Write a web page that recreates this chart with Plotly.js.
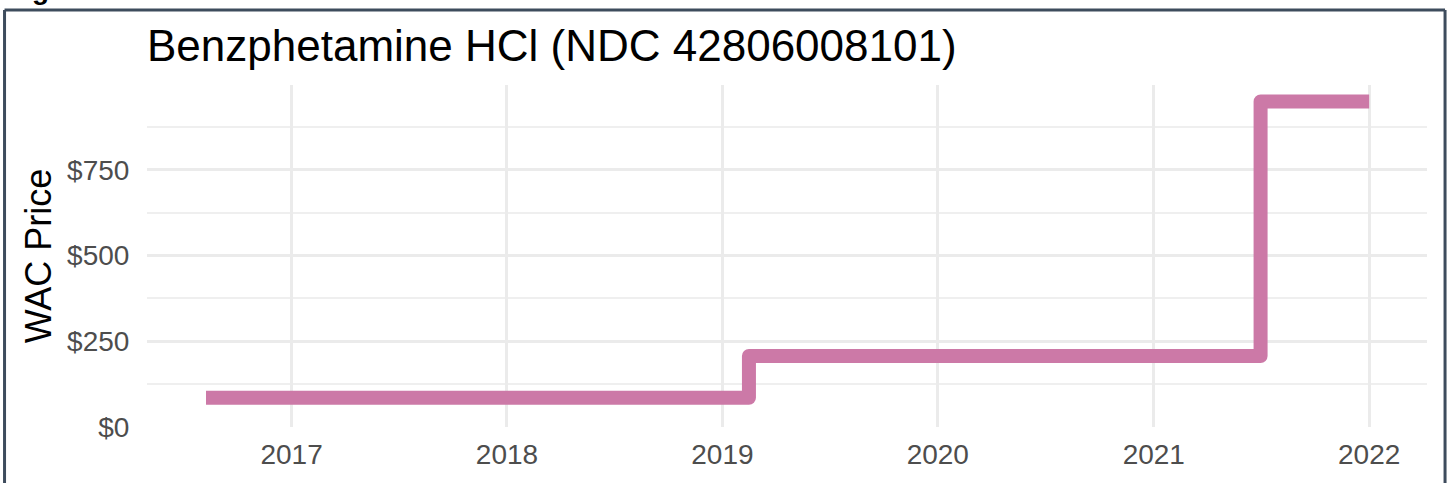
<!DOCTYPE html>
<html>
<head>
<meta charset="utf-8">
<script src="https://cdn.plot.ly/plotly-3.0.1.min.js"></script>
<style>
html,body{margin:0;padding:0;background:#fff;}
#chart{width:1448px;height:483px;}
#chart .js-line{stroke-linejoin:round !important;}
</style>
</head>
<body>
<div id="chart"></div>
<script>
// Data
const dates = ['2016-08-09', '2019-02-15', '2021-07-01', '2022-01-01'];
const prices = [85, 207, 950, 950];
const chartTitle = 'Benzphetamine HCl (NDC 42806008101)';
const yTitle = 'WAC Price';
const figureLabel = 'Figure 1';

const FONT = 'Liberation Sans, Arial, Helvetica, sans-serif';

const trace = {
  x: dates,
  y: prices,
  type: 'scatter',
  mode: 'lines',
  line: {shape: 'hv', color: '#cc79a7', width: 14},
  hoverinfo: 'skip'
};

const layout = {
  width: 1448,
  height: 483,
  margin: {l: 147, r: 21, t: 85, b: 56},
  paper_bgcolor: '#ffffff',
  plot_bgcolor: '#ffffff',
  showlegend: false,
  font: {family: FONT, color: '#4d4d4d'},
  title: {
    text: chartTitle,
    font: {family: FONT, size: 44, color: '#000000'},
    x: 0, xref: 'paper', xanchor: 'left',
    y: 1 - 45.5 / 483, yref: 'container', yanchor: 'middle'
  },
  xaxis: {
    type: 'date',
    range: ['2016-05-01', '2022-04-09'],
    tick0: '2017-01-01',
    dtick: 'M12',
    tickformat: '%Y',
    showgrid: true,
    gridcolor: '#ebebeb',
    gridwidth: 3,
    zeroline: false,
    showline: false,
    ticks: 'outside',
    ticklen: 2,
    tickcolor: 'rgba(0,0,0,0)',
    tickfont: {family: FONT, size: 28, color: '#4d4d4d'}
  },
  yaxis: {
    range: [0, 998],
    tick0: 0,
    dtick: 250,
    tickprefix: '$',
    tickformat: ',d',
    showgrid: true,
    gridcolor: '#ebebeb',
    gridwidth: 3,
    zeroline: false,
    showline: false,
    ticks: 'outside',
    ticklen: 11,
    tickcolor: 'rgba(0,0,0,0)',
    tickfont: {family: FONT, size: 28, color: '#4d4d4d'},
    minor: {tick0: 125, dtick: 250, showgrid: true, gridcolor: '#efefef', gridwidth: 2},
    title: {text: yTitle, font: {family: FONT, size: 36, color: '#000000'}, standoff: 4}
  },
  shapes: [
    {type: 'line', xref: 'paper', yref: 'paper', x0: -0.1113, x1: 1.0141, y0: 1.2193, y1: 1.2193,
     line: {color: '#3e4c5d', width: 3}},
    {type: 'line', xref: 'paper', yref: 'paper', x0: -0.1113, x1: -0.1113, y0: 1.2193, y1: -0.3,
     line: {color: '#3e4c5d', width: 3}},
    {type: 'line', xref: 'paper', yref: 'paper', x0: 1.0141, x1: 1.0141, y0: 1.2193, y1: -0.3,
     line: {color: '#3e4c5d', width: 3}}
  ],
  annotations: [
    {text: '<b>' + figureLabel + '</b>', xref: 'paper', yref: 'paper',
     x: -0.111, y: (427 + 1) / 342, xanchor: 'left', yanchor: 'bottom', yshift: -8,
     showarrow: false, font: {family: FONT, size: 28, color: '#000000'}}
  ]
};

Plotly.newPlot('chart', [trace], layout, {displayModeBar: false, staticPlot: true});
</script>
</body>
</html>
